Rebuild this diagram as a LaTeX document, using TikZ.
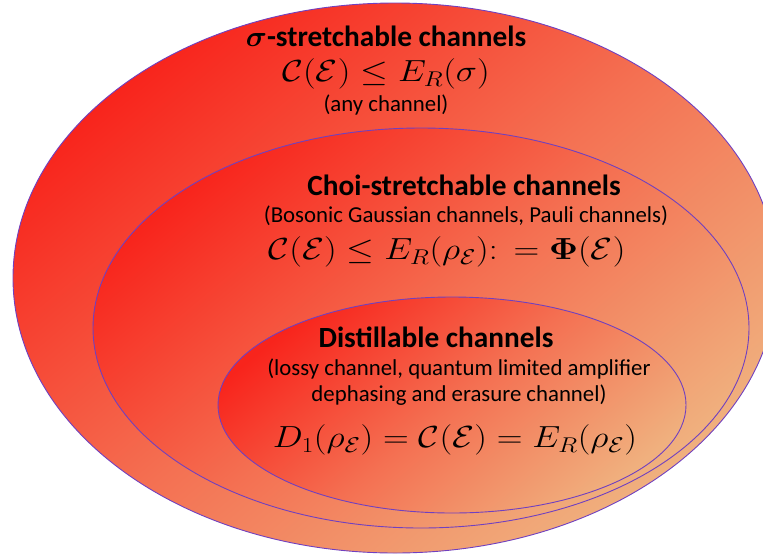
\documentclass[tikz,border=0pt]{standalone}
\usepackage{fix-cm}
\usepackage{amsmath}
\usepackage{graphicx}
\usepackage[no-math]{fontspec}
\setmainfont{Carlito}
\definecolor{setred}{RGB}{248,36,28}
\definecolor{setmid}{RGB}{244,112,82}
\definecolor{setpeach}{RGB}{240,176,126}
\definecolor{rim}{RGB}{112,64,192}
% slightly widened formula, in the manner of a broad math face
\newcommand{\wideformula}[1]{\scalebox{1.17}[1]{$#1$}}
\tikzset{
  setfill/.style={top color=setred, bottom color=setpeach, middle color=setmid,
                  shading angle=40, draw=rim, line width=0.9pt},
  title/.style={font=\fontsize{29.3}{32}\bfseries\selectfont, inner sep=0pt},
  note/.style={font=\fontsize{22.8}{26}\selectfont, inner sep=0pt, align=center},
  formula/.style={font=\fontsize{30.5}{32}\selectfont, inner sep=0pt}
}
\begin{document}
\begin{tikzpicture}[x=1pt, y=-1pt]
  \useasboundingbox (0,0) rectangle (763,555);
  \clip (0,0) rectangle (763,555);
  % nested sets of channels
  \path[setfill] (395,278) ellipse [x radius=382pt, y radius=275pt];
  \path[setfill] (421,328) ellipse [x radius=328pt, y radius=200pt];
  \path[setfill] (452,405) ellipse [x radius=234pt, y radius=108pt];
  % outer set
  \node[title]   (sigT) at (386,36)  {$\boldsymbol{\sigma}$-stretchable channels};
  \node[formula] (sigF) at (386,74)  {\wideformula{\mathcal{C}(\mathcal{E}) \leq E_R(\sigma)}};
  \node[note]    (sigN) at (386,105) {(any channel)};
  % middle set
  \node[title]   (choT) at (464,185) {Choi-stretchable channels};
  \node[note]    (choN) at (466,216) {(Bosonic Gaussian channels, Pauli channels)};
  \node[formula] (choF) at (447,252) {\wideformula{\mathcal{C}(\mathcal{E}) \leq E_R(\rho_{\mathcal{E}})\mathord{:}\,= \mathbf{\Phi}(\mathcal{E})}};
  % inner set
  \node[title]   (disT) at (436,337) {Distillable channels};
  \node[note]    (disN) at (459,382) {(lossy channel, quantum limited amplifier\\dephasing and erasure channel)};
  \node[formula] (disF) at (455,440) {\wideformula{D_1(\rho_{\mathcal{E}}) = \mathcal{C}(\mathcal{E}) = E_R(\rho_{\mathcal{E}})}};
\end{tikzpicture}
\end{document}
